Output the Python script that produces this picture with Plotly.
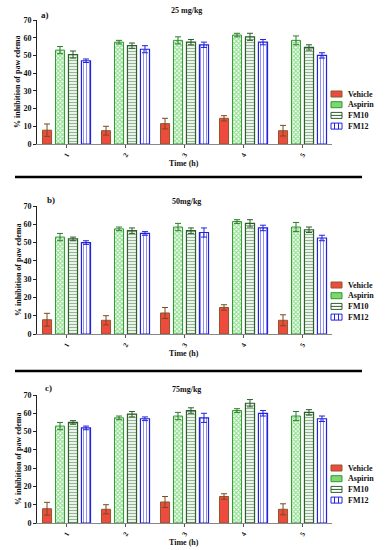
import plotly.graph_objects as go

times = ["1", "2", "3", "4", "5"]
series_names = ["Vehicle", "Aspirin", "FM10", "FM12"]
panel_titles = ["25 mg/kg", "50mg/kg", "75mg/kg"]
panel_labels = ["a)", "b)", "c)"]

vehicle = [7.8, 7.5, 11.5, 14.5, 7.5]
vehicle_err = [3.5, 2.5, 3.0, 1.5, 3.0]
aspirin = [53.0, 57.5, 58.5, 61.5, 58.5]
aspirin_err = [2.0, 1.0, 2.0, 1.0, 2.5]

fm10_25 = [50.5, 55.5, 57.5, 60.5, 54.5]
fm10_25_err = [2.0, 1.5, 1.5, 2.0, 1.5]
fm12_25 = [47.0, 53.5, 56.0, 57.5, 50.0]
fm12_25_err = [1.0, 2.0, 1.5, 1.5, 1.5]

fm10_50 = [52.0, 56.5, 56.5, 60.5, 57.0]
fm10_50_err = [1.0, 1.5, 1.5, 2.0, 1.5]
fm12_50 = [50.0, 55.0, 55.5, 58.0, 52.5]
fm12_50_err = [1.0, 1.0, 2.5, 1.5, 1.5]

fm10_75 = [55.0, 59.5, 61.5, 65.5, 60.5]
fm10_75_err = [1.0, 1.5, 1.5, 2.0, 1.5]
fm12_75 = [52.0, 57.0, 57.5, 60.0, 57.0]
fm12_75_err = [1.0, 1.0, 2.5, 1.5, 1.5]

panels = [
    (vehicle, vehicle_err, aspirin, aspirin_err, fm10_25, fm10_25_err, fm12_25, fm12_25_err),
    (vehicle, vehicle_err, aspirin, aspirin_err, fm10_50, fm10_50_err, fm12_50, fm12_50_err),
    (vehicle, vehicle_err, aspirin, aspirin_err, fm10_75, fm10_75_err, fm12_75, fm12_75_err),
]

W, H = 385, 550
FONT = "Liberation Serif"

def px_y(p):
    return 1 - p / H

def px_x(p):
    return p / W

# plot area pixel positions (top, bottom) of each panel, in window pixels
areas = [(20, 144), (206, 334), (395, 523)]
legend_tops = [94, 285, 468]
title_y = [10, 202, 389]
xtitle_y = [163, 353, 542]
label_pos = [(45, 15), (51, 200), (48, 388)]
xdom = [px_x(37), px_x(332)]

edge_colors = ["#8a5a2b", "#2f9a2f", "#2b5e2b", "#2222dd"]
err_colors = ["#7a4a20", "#2f7a2f", "#2b5e2b", "#2222dd"]
styles = [
    dict(color="#ee4b3e", line=dict(color=edge_colors[0], width=1),
         pattern=dict(shape="")),
    dict(color="#35c135", line=dict(color=edge_colors[1], width=1),
         pattern=dict(shape="x", fgcolor="#1fc01f", bgcolor="#ffffff", size=3, solidity=0.6)),
    dict(color="#ffffff", line=dict(color=edge_colors[2], width=1.2),
         pattern=dict(shape="-", fgcolor="#3a6e3a", bgcolor="#f4fbf4", size=3, solidity=0.4)),
    dict(color="#ffffff", line=dict(color=edge_colors[3], width=1.2),
         pattern=dict(shape="|", fgcolor="#2222ee", bgcolor="#ffffff", size=3, solidity=0.35)),
]

fig = go.Figure()
for i, p in enumerate(panels):
    suffix = "" if i == 0 else str(i + 1)
    vals = [p[0], p[2], p[4], p[6]]
    errs = [p[1], p[3], p[5], p[7]]
    for k, name in enumerate(series_names):
        fig.add_trace(go.Bar(
            x=times, y=vals[k], name=name,
            marker=styles[k],
            error_y=dict(type="data", array=errs[k], color=err_colors[k],
                         thickness=1, width=3),
            xaxis="x" + suffix, yaxis="y" + suffix,
            showlegend=False,
        ))

bold = dict(family=FONT, size=8, color="#111111", weight="bold")
layout = dict(
    width=W, height=H,
    margin=dict(l=0, r=0, t=0, b=0, autoexpand=False),
    paper_bgcolor="white", plot_bgcolor="white",
    barmode="group", bargap=0.12, bargroupgap=0.3,
    font=dict(family=FONT, color="#111111", size=8),
    showlegend=False,
)
annotations = []
shapes = []
for i in range(3):
    suffix = "" if i == 0 else str(i + 1)
    top, bot = areas[i]
    layout["xaxis" + suffix] = dict(
        domain=xdom, anchor="y" + suffix, automargin=False,
        showline=True, linecolor="#888888", linewidth=1,
        ticks="outside", ticklen=3, tickcolor="#555555",
        tickangle=-60, tickfont=dict(family=FONT, size=7, color="#111111", weight="bold"),
        showgrid=False, zeroline=False,
    )
    layout["yaxis" + suffix] = dict(
        domain=[px_y(bot), px_y(top)], anchor="x" + suffix, automargin=False,
        range=[0, 70], dtick=10,
        showline=True, linecolor="#222222", linewidth=1,
        ticks="outside", ticklen=3, tickcolor="#222222",
        tickfont=bold,
        showgrid=False, zeroline=False,
    )
    annotations.append(dict(
        text="Time (h)", x=px_x(184), y=px_y(xtitle_y[i]), xref="paper", yref="paper",
        xanchor="center", yanchor="middle", showarrow=False, font=bold,
    ))
    annotations.append(dict(
        text="% inhibition of paw edema", x=px_x(18), y=px_y((top + bot) / 2),
        xref="paper", yref="paper", xanchor="center", yanchor="middle",
        textangle=-90, showarrow=False, font=bold,
    ))
    annotations.append(dict(
        text=panel_titles[i], x=px_x(186), y=px_y(title_y[i]),
        xref="paper", yref="paper", xanchor="center", yanchor="middle",
        showarrow=False, font=bold,
    ))
    annotations.append(dict(
        text=panel_labels[i], x=px_x(label_pos[i][0]), y=px_y(label_pos[i][1]),
        xref="paper", yref="paper", xanchor="center", yanchor="middle",
        showarrow=False, font=dict(family=FONT, size=9, color="#111111", weight="bold"),
    ))
    for k, name in enumerate(series_names):
        cy = legend_tops[i] + k * 10.7
        x0, x1 = 331, 342
        y0, y1 = cy - 3, cy + 3
        if k == 0:
            fill = "#ee4b3e"
        elif k == 1:
            fill = "#7fd86f"
        else:
            fill = "#ffffff"
        shapes.append(dict(type="rect", xref="paper", yref="paper",
                           x0=px_x(x0), x1=px_x(x1), y0=px_y(y1), y1=px_y(y0),
                           fillcolor=fill, line=dict(color=edge_colors[k], width=1)))
        if k == 2:
            shapes.append(dict(type="line", xref="paper", yref="paper",
                               x0=px_x(x0), x1=px_x(x1), y0=px_y(cy), y1=px_y(cy),
                               line=dict(color=edge_colors[k], width=1)))
        if k == 3:
            for xl in [334.5, 338.5]:
                shapes.append(dict(type="line", xref="paper", yref="paper",
                                   x0=px_x(xl), x1=px_x(xl), y0=px_y(y0), y1=px_y(y1),
                                   line=dict(color=edge_colors[k], width=1)))
        annotations.append(dict(
            text=name, x=px_x(346), y=px_y(cy), xref="paper", yref="paper",
            xanchor="left", yanchor="middle", showarrow=False, font=bold,
        ))

for ypx in [177, 371]:
    shapes.append(dict(type="line", xref="paper", yref="paper",
                       x0=px_x(15), x1=px_x(362), y0=px_y(ypx), y1=px_y(ypx),
                       line=dict(color="black", width=2.5)))

layout["annotations"] = annotations
layout["shapes"] = shapes
fig.update_layout(**layout)
fig.write_html("out.html", config={"displayModeBar": False},
               post_script="document.body.style.margin='0';document.body.style.overflow='hidden';")
